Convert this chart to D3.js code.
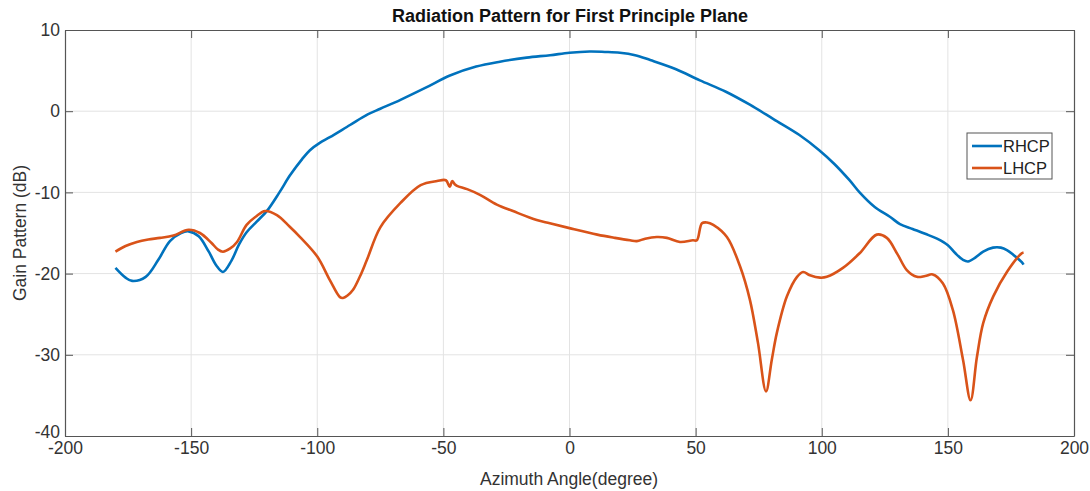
<!DOCTYPE html>
<html><head><meta charset="utf-8">
<script src="https://cdn.jsdelivr.net/npm/d3@7"></script>
<style>body{margin:0;background:#fff}svg{display:block}text{font-family:"Liberation Sans",Arial,sans-serif}</style>
</head><body><svg id="c" width="1090" height="491"></svg>
<script>
const xTicks=[-200,-150,-100,-50,0,50,100,150,200];
const yTicks=[-40,-30,-20,-10,0,10];
const rhcpX=[-180,-176,-173.4,-168,-163,-158.4,-154,-151,-147,-143,-140,-137.4,-134,-131,-128,-124,-120,-115,-110.8,-106,-102.9,-99,-95,-87,-80,-75,-67,-57,-47.4,-37,-27.6,-17,-7.7,0,8,14,20,26,32,42,51.7,62,71.5,81,91,99,105,111,115,121,127,131,136,141,145.7,150,153,156,158,161,164,167.9,171,173.4,176,179.3,180];
const rhcpY=[-19.3,-20.5,-20.9,-20.4,-18.3,-16.0,-15.0,-14.8,-15.4,-17.3,-19.0,-19.8,-18.4,-16.4,-14.9,-13.6,-12.3,-10.0,-7.9,-5.9,-4.8,-3.9,-3.2,-1.7,-0.4,0.3,1.4,2.9,4.4,5.5,6.1,6.6,6.9,7.2,7.35,7.3,7.2,6.9,6.3,5.2,3.8,2.4,0.8,-1.0,-2.9,-4.8,-6.5,-8.5,-10.0,-11.8,-13.0,-13.9,-14.5,-15.1,-15.7,-16.5,-17.5,-18.3,-18.5,-18.0,-17.3,-16.8,-16.8,-17.1,-17.7,-18.6,-18.9];
const lhcpX=[-180,-176,-171.5,-167,-162.3,-157,-151,-146.5,-142,-139.5,-137.4,-134.5,-131.8,-128,-124,-120.7,-116,-111,-106.8,-100,-95,-91,-89.8,-88,-85.8,-83,-80.3,-75,-67,-59,-52.5,-49,-47.5,-46.5,-45.5,-44.6,-40.6,-35.5,-28.8,-22.4,-13,-7.8,0,11,18,24,26.7,30,34.6,38.6,43.8,48.9,50.5,52.5,54.5,57,62.4,67.6,71.5,74.7,77.9,80.2,82.2,86.2,90.2,92.6,95.3,99.3,102,108.4,115,121.8,125.8,130,133.8,137.7,141,144,148,152,156,159,161.5,164,168,173.4,179.3,180];
const lhcpY=[-17.3,-16.6,-16.1,-15.8,-15.6,-15.3,-14.6,-15.0,-16.2,-17.0,-17.3,-16.9,-16.1,-14.0,-12.9,-12.3,-12.8,-14.2,-15.5,-17.9,-20.8,-22.9,-23.0,-22.7,-22.0,-20.3,-18.3,-14.3,-11.3,-9.1,-8.6,-8.5,-9.3,-8.6,-9.0,-9.2,-9.6,-10.3,-11.5,-12.3,-13.4,-13.8,-14.4,-15.2,-15.6,-15.9,-16.0,-15.7,-15.5,-15.6,-16.1,-15.9,-15.9,-13.8,-13.7,-14.0,-15.5,-19.1,-23.2,-28.5,-34.5,-30.6,-27.3,-22.8,-20.4,-19.8,-20.2,-20.5,-20.4,-19.3,-17.5,-15.2,-15.6,-17.6,-19.6,-20.4,-20.3,-20.1,-21.2,-24.5,-30.6,-35.6,-30.3,-26.1,-22.8,-19.8,-17.5,-17.4];
const seriesNames=["RHCP","LHCP"];
const colors=["#0072BD","#D95319"];

const svg=d3.select("#c");
const L=65,R=1074,T=30,B=436;
const x=d3.scaleLinear().domain([-200,200]).range([L,R]);
const y=d3.scaleLinear().domain([-40,10]).range([B,T]);
const fmt=d=>String(d);

// grid
svg.append("g").selectAll("line").data(xTicks.slice(1,-1)).join("line")
 .attr("x1",d=>x(d)).attr("x2",d=>x(d)).attr("y1",T).attr("y2",B)
 .attr("stroke","#e3e3e3").attr("stroke-width",1);
svg.append("g").selectAll("line").data(yTicks.slice(1,-1)).join("line")
 .attr("y1",d=>y(d)).attr("y2",d=>y(d)).attr("x1",L).attr("x2",R)
 .attr("stroke","#e3e3e3").attr("stroke-width",1);

// axes
const ax=(g)=>{g.selectAll("line").attr("stroke","#555");g.selectAll("text").attr("fill","#333").style("font-size","17.5px");};
svg.append("g").attr("transform",`translate(0,${B})`).call(d3.axisBottom(x).tickValues(xTicks).tickFormat(fmt).tickSizeInner(-8).tickSizeOuter(0).tickPadding(6)).call(ax);
svg.append("g").attr("transform",`translate(0,${T})`).call(d3.axisTop(x).tickValues(xTicks).tickSizeInner(-8).tickSizeOuter(0).tickFormat("")).call(ax);
const yAx=svg.append("g").attr("transform",`translate(${L},0)`).call(d3.axisLeft(y).tickValues(yTicks).tickFormat(fmt).tickSizeInner(-8).tickSizeOuter(0).tickPadding(5)).call(ax);
yAx.selectAll(".tick text").filter(d=>d===-40).attr("dy","0.1em");
svg.append("g").attr("transform",`translate(${R},0)`).call(d3.axisRight(y).tickValues(yTicks).tickSizeInner(-8).tickSizeOuter(0).tickFormat("")).call(ax);
svg.selectAll(".domain").attr("stroke","#555").attr("stroke-width",1.2);

// lines
const line=d3.line().x(d=>x(d[0])).y(d=>y(d[1])).curve(d3.curveCatmullRom.alpha(0.5));
const data=[d3.zip(rhcpX,rhcpY),d3.zip(lhcpX,lhcpY)];
data.forEach((d,i)=>svg.append("path").datum(d).attr("d",line).attr("fill","none").attr("stroke",colors[i]).attr("stroke-width",2.6).attr("stroke-linejoin","round"));

// title and labels
svg.append("text").attr("x",570).attr("y",22).attr("text-anchor","middle").style("font-size","18px").style("font-weight","bold").attr("fill","#111").text("Radiation Pattern for First Principle Plane");
svg.append("text").attr("x",569).attr("y",485).attr("text-anchor","middle").style("font-size","17.5px").attr("fill","#333").text("Azimuth Angle(degree)");
svg.append("text").attr("transform",`translate(26,233) rotate(-90)`).attr("text-anchor","middle").style("font-size","17.5px").attr("fill","#333").text("Gain Pattern (dB)");

// legend
const lg=svg.append("g");
lg.append("rect").attr("x",967).attr("y",133).attr("width",85).attr("height",46).attr("fill","#fff").attr("stroke","#555").attr("stroke-width",1);
seriesNames.forEach((n,i)=>{
 const yy=146+i*22;
 lg.append("line").attr("x1",972).attr("x2",1002).attr("y1",yy).attr("y2",yy).attr("stroke",colors[i]).attr("stroke-width",2.6);
 lg.append("text").attr("x",1003).attr("y",yy+6).style("font-size","16.5px").attr("fill","#222").text(n);
});
</script></body></html>
